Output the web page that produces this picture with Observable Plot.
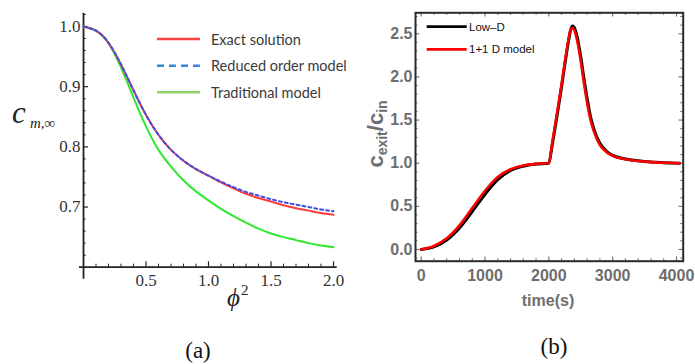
<!DOCTYPE html>
<html>
<head>
<meta charset="utf-8">
<script src="https://cdn.jsdelivr.net/npm/d3@7"></script>
<script src="https://cdn.jsdelivr.net/npm/@observablehq/plot@0.6"></script>
<style>
  html, body { margin: 0; padding: 0; background: #fff; }
  #wrap { position: relative; width: 695px; height: 364px; background: #fff; overflow: hidden; }
  #wrap svg { position: absolute; left: 0; top: 0; }
</style>
</head>
<body>
<div id="wrap"></div>
<script>
// ---------- Panel (a) data ----------
const phi2 = [0, 0.1, 0.2, 0.3, 0.4, 0.5, 0.6, 0.7, 0.8, 0.9, 1.0, 1.1, 1.2, 1.3, 1.4, 1.5, 1.6, 1.7, 1.8, 1.9, 2.0];
const exactSolution = [1.0, 0.993, 0.973, 0.937, 0.894, 0.853, 0.820, 0.795, 0.777, 0.763, 0.752, 0.741, 0.731, 0.722, 0.715, 0.709, 0.703, 0.698, 0.694, 0.690, 0.687];
const reducedOrder = [1.0, 0.993, 0.973, 0.937, 0.894, 0.853, 0.820, 0.795, 0.777, 0.763, 0.752, 0.742, 0.733, 0.725, 0.719, 0.713, 0.708, 0.704, 0.700, 0.696, 0.693];
const traditional = [1.0, 0.993, 0.972, 0.932, 0.882, 0.834, 0.795, 0.767, 0.744, 0.726, 0.711, 0.697, 0.685, 0.674, 0.664, 0.656, 0.650, 0.645, 0.640, 0.636, 0.633];
const aXMajor = [0.5, 1.0, 1.5, 2.0];
const aXMinor = [0.1, 0.2, 0.3, 0.4, 0.6, 0.7, 0.8, 0.9, 1.1, 1.2, 1.3, 1.4, 1.6, 1.7, 1.8, 1.9];
const aYMajor = [0.7, 0.8, 0.9, 1.0];
const aYMinor = [0.62, 0.64, 0.66, 0.68, 0.72, 0.74, 0.76, 0.78, 0.82, 0.84, 0.86, 0.88, 0.92, 0.94, 0.96, 0.98, 1.02];

// ---------- Panel (b) data ----------
const timeS = [0, 200, 400, 600, 800, 1000, 1200, 1400, 1600, 1800, 2000, 2050, 2100, 2150, 2200, 2250, 2300, 2340, 2370, 2400, 2450, 2500, 2550, 2600, 2650, 2700, 2800, 2900, 3000, 3200, 3400, 3600, 3800, 4050];
const lowD = [0, 0.03, 0.11, 0.25, 0.44, 0.64, 0.81, 0.915, 0.965, 0.99, 1.0, 1.2, 1.42, 1.65, 1.89, 2.14, 2.38, 2.54, 2.59, 2.57, 2.44, 2.23, 1.98, 1.75, 1.55, 1.41, 1.23, 1.14, 1.09, 1.048, 1.027, 1.013, 1.006, 1.0];
const oneOneD = [0, 0.04, 0.13, 0.28, 0.48, 0.68, 0.84, 0.93, 0.972, 0.992, 1.0, 1.22, 1.45, 1.68, 1.92, 2.17, 2.40, 2.54, 2.57, 2.54, 2.40, 2.18, 1.93, 1.70, 1.51, 1.38, 1.21, 1.13, 1.085, 1.045, 1.025, 1.012, 1.005, 1.0];
const bXMajor = [0, 1000, 2000, 3000, 4000];
const bXMinor = [200, 400, 600, 800, 1200, 1400, 1600, 1800, 2200, 2400, 2600, 2800, 3200, 3400, 3600, 3800];
const bYMajor = [0, 0.5, 1.0, 1.5, 2.0, 2.5];
const bYMinor = [-0.1, 0.1, 0.2, 0.3, 0.4, 0.6, 0.7, 0.8, 0.9, 1.1, 1.2, 1.3, 1.4, 1.6, 1.7, 1.8, 1.9, 2.1, 2.2, 2.3, 2.4, 2.6, 2.7];

const wrap = document.getElementById("wrap");
const W = 695, H = 364;

// ---------- Panel (a) ----------
const tabA = phi2.map((x, i) => ({x, exact: exactSolution[i], reduced: reducedOrder[i], trad: traditional[i]}));
const axisCol = "#222";
const plotA = Plot.plot({
  width: W, height: H,
  marginLeft: 83, marginRight: W - 333, marginTop: 26, marginBottom: H - 266.7,
  style: {background: "transparent", overflow: "visible", fontFamily: "Liberation Serif", fontSize: "17px"},
  x: {domain: [0, 2], axis: null},
  y: {domain: [0.6, 1.0], axis: null},
  marks: [
    Plot.ruleX([0], {y1: 0.58, y2: 1.022, stroke: axisCol, strokeWidth: 1.8}),
    Plot.ruleY([0.6], {x1: -0.032, x2: 2.03, stroke: axisCol, strokeWidth: 1.8}),
    Plot.ruleX(aXMajor, {y1: 0.6, y2: 0.609, stroke: axisCol, strokeWidth: 1.2}),
    Plot.ruleX(aXMinor, {y1: 0.6, y2: 0.605, stroke: axisCol, strokeWidth: 1}),
    Plot.ruleY(aYMajor, {x1: 0, x2: 0.04, stroke: axisCol, strokeWidth: 1.2}),
    Plot.ruleY(aYMinor, {x1: 0, x2: 0.022, stroke: axisCol, strokeWidth: 1}),
    Plot.text(aXMajor, {x: d => d, y: 0.6, dy: 13, text: d => d.toFixed(1), fontFamily: "Liberation Serif", fontSize: 17, fill: "#333", lineAnchor: "middle"}),
    Plot.text(aYMajor, {x: 0, y: d => d, dx: -3, text: d => d.toFixed(1), textAnchor: "end", fontFamily: "Liberation Serif", fontSize: 17, fill: "#333"}),
    Plot.line(tabA, {x: "x", y: "trad", stroke: "#2ee82e", strokeWidth: 2, curve: "natural"}),
    Plot.line(tabA, {x: "x", y: "exact", stroke: "#ff3b3b", strokeWidth: 2, curve: "natural"}),
    Plot.line(tabA, {x: "x", y: "reduced", stroke: "#3b4fe8", strokeWidth: 2, strokeDasharray: "3,3", curve: "natural"})
  ]
});
wrap.appendChild(plotA);

// ---------- Panel (b) ----------
const tabB = timeS.map((t, i) => ({t, low: lowD[i], one: oneOneD[i]}));
const X0 = -89, X1 = 4105, Y0 = -0.136, Y1 = 2.743;
const tickCol = "#777";
const lblCol = "#6e6e6e";
const plotB = Plot.plot({
  width: W, height: H,
  marginLeft: 415, marginRight: W - 682.7, marginTop: 12.3, marginBottom: H - 260.7,
  style: {background: "transparent", overflow: "visible", fontFamily: "Liberation Sans"},
  x: {domain: [X0, X1], axis: null},
  y: {domain: [Y0, Y1], axis: null},
  marks: [
    Plot.ruleX(bXMajor, {y1: Y0, y2: Y0 + 0.05, stroke: tickCol, strokeWidth: 1.2}),
    Plot.ruleX(bXMinor, {y1: Y0, y2: Y0 + 0.03, stroke: tickCol, strokeWidth: 1}),
    Plot.ruleX(bXMajor, {y1: Y1, y2: Y1 - 0.05, stroke: tickCol, strokeWidth: 1.2}),
    Plot.ruleX(bXMinor, {y1: Y1, y2: Y1 - 0.03, stroke: tickCol, strokeWidth: 1}),
    Plot.ruleY(bYMajor, {x1: X0, x2: X0 + 65, stroke: tickCol, strokeWidth: 1.2}),
    Plot.ruleY(bYMinor, {x1: X0, x2: X0 + 40, stroke: tickCol, strokeWidth: 1}),
    Plot.ruleY(bYMajor, {x1: X1, x2: X1 - 65, stroke: tickCol, strokeWidth: 1.2}),
    Plot.ruleY(bYMinor, {x1: X1, x2: X1 - 40, stroke: tickCol, strokeWidth: 1}),
    Plot.line(tabB, {x: "t", y: "low", stroke: "#000", strokeWidth: 3, curve: "monotone-x"}),
    Plot.line(tabB, {x: "t", y: "one", stroke: "#ff0000", strokeWidth: 2.6, curve: "monotone-x"}),
    Plot.frame({stroke: "#2a2a2a", strokeWidth: 2}),
    Plot.text(bXMajor, {x: d => d, y: Y0, dy: 15, text: d => String(d), fontFamily: "Liberation Sans", fontWeight: "bold", fontSize: 16, fill: lblCol, lineAnchor: "middle"}),
    Plot.text(bYMajor, {x: X0, y: d => d, dx: -3, text: d => d.toFixed(1), textAnchor: "end", fontFamily: "Liberation Sans", fontWeight: "bold", fontSize: 16, fill: lblCol})
  ]
});
wrap.appendChild(plotB);

// ---------- labels, legends, captions ----------
const svg = d3.select(wrap).append("svg").attr("width", W).attr("height", H);
function txt(x, y, s, o) {
  const t = svg.append("text").attr("x", x).attr("y", y).text(s);
  for (const k in o) t.attr(k, o[k]);
  return t;
}
// panel (a) axis labels
txt(12, 123, "c", {"font-family": "Liberation Serif", "font-style": "italic", "font-size": 31, fill: "#222"});
txt(30, 128, "m,∞", {"font-family": "Liberation Serif", "font-style": "italic", "font-size": 15, fill: "#222"});
txt(227, 306, "ϕ", {"font-family": "Liberation Serif", "font-style": "italic", "font-size": 25, fill: "#222"});
txt(241, 295, "2", {"font-family": "Liberation Serif", "font-size": 15, fill: "#222"});
// panel (a) legend
const legA = [
  {label: "Exact solution", color: "#ff4040", dash: null, y: 39},
  {label: "Reduced order model", color: "#3a86d8", dash: "7,5", y: 65.7},
  {label: "Traditional model", color: "#8ed36a", dash: null, y: 92.3}
];
legA.forEach(d => {
  const l = svg.append("line").attr("x1", 157).attr("x2", 200).attr("y1", d.y).attr("y2", d.y)
    .attr("stroke", d.color).attr("stroke-width", 2.4);
  if (d.dash) l.attr("stroke-dasharray", d.dash);
  txt(211, d.y, d.label, {"font-family": "Lato", "font-size": 14.5, fill: "#3a3a3a", "dominant-baseline": "central"});
});
// panel (b) axis labels
const yl = svg.append("text").attr("transform", "translate(383,134) rotate(-90)")
  .attr("text-anchor", "middle").attr("font-family", "Liberation Sans").attr("font-weight", "bold").attr("fill", lblCol);
yl.append("tspan").attr("font-size", 22).text("c");
yl.append("tspan").attr("font-size", 14).attr("dy", 4).text("exit");
yl.append("tspan").attr("font-size", 22).attr("dy", -4).text("/c");
yl.append("tspan").attr("font-size", 14).attr("dy", 4).text("in");
txt(548, 306, "time(s)", {"font-family": "Liberation Sans", "font-weight": "bold", "font-size": 16, fill: lblCol, "text-anchor": "middle"});
// panel (b) legend
const legB = [
  {label: "Low–D", color: "#000", y: 26.7},
  {label: "1+1 D model", color: "#ff0000", y: 49.3}
];
legB.forEach(d => {
  svg.append("line").attr("x1", 426.7).attr("x2", 466.7).attr("y1", d.y).attr("y2", d.y)
    .attr("stroke", d.color).attr("stroke-width", 2.8);
  txt(469, d.y, d.label, {"font-family": "Liberation Sans", "font-size": 11.5, fill: "#111", "dominant-baseline": "central"});
});
// captions
txt(198, 358, "(a)", {"font-family": "Liberation Serif", "font-size": 23, fill: "#111", "text-anchor": "middle"});
txt(554, 354, "(b)", {"font-family": "Liberation Serif", "font-size": 23, fill: "#111", "text-anchor": "middle"});
</script>
</body>
</html>
